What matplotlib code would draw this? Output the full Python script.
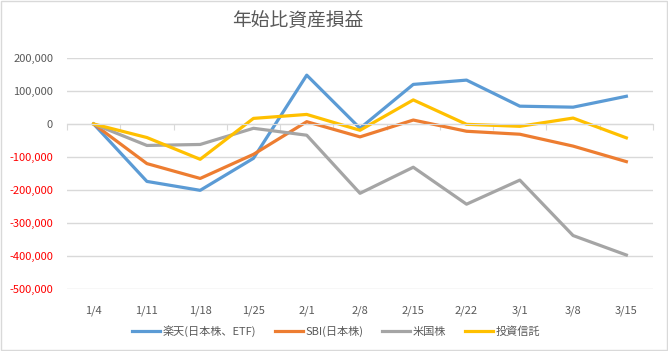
import matplotlib
matplotlib.use('Agg')
import matplotlib.pyplot as plt
from matplotlib.ticker import FuncFormatter

plt.rcParams['font.family'] = ['Noto Sans CJK JP', 'DejaVu Sans']

dates = ['1/4', '1/11', '1/18', '1/25', '2/1', '2/8', '2/15', '2/22', '3/1', '3/8', '3/15']
rakuten = [0, -174000, -201000, -104000, 148000, -13000, 120000, 133000, 54000, 51000, 84000]
sbi = [0, -120000, -165000, -92000, 7000, -39000, 12000, -22000, -31000, -67000, -114000]
us_stock = [0, -65000, -62000, -13000, -34000, -210000, -131000, -243000, -170000, -338000, -397000]
trust = [0, -41000, -107000, 17000, 29000, -19000, 73000, -1000, -7000, 18000, -42000]
names = ['楽天(日本株、ETF)', 'SBI(日本株)', '米国株', '投資信託']
colors = ['#5B9BD5', '#ED7D31', '#A5A5A5', '#FFC000']

text_col = '#595959'
grid_col = '#d9d9d9'

fig = plt.figure(figsize=(6.68, 3.51), dpi=100)
fig.patches.append(plt.Rectangle((0.001, 0.002), 0.997, 0.995, transform=fig.transFigure,
                                 fill=False, edgecolor=grid_col, lw=1))
ax = fig.add_axes([67 / 668, 1 - 289 / 351, 586 / 668, 231 / 351])

x = list(range(len(dates)))
for series, name, c in zip([rakuten, sbi, us_stock, trust], names, colors):
    ax.plot(x, series, color=c, lw=2.3, label=name, solid_joinstyle='round')

ax.set_xlim(-0.5, len(dates) - 0.5)
ax.set_ylim(-500000, 200000)
ax.set_yticks(range(-500000, 200001, 100000))
ax.yaxis.set_major_formatter(FuncFormatter(lambda v, p: f'{int(v):,}'))
ax.grid(axis='y', color=grid_col, lw=1)
ax.set_axisbelow(True)
for s in ['left', 'right', 'top']:
    ax.spines[s].set_visible(False)
ax.spines['bottom'].set_position(('data', 0))
ax.spines['bottom'].set_color(grid_col)
ax.tick_params(axis='y', length=0, labelsize=8, pad=10)
for lab in ax.get_yticklabels():
    lab.set_color('red' if lab.get_text().startswith('-') else text_col)

ax.set_xticks([i - 0.5 for i in range(len(dates) + 1)])
ax.tick_params(axis='x', which='major', direction='out', length=4, color=grid_col, labelbottom=False)

sec = ax.secondary_xaxis(0)
sec.set_xticks(x)
sec.set_xticklabels(dates)
sec.tick_params(length=0, labelsize=8, labelcolor=text_col, pad=12)
sec.spines['bottom'].set_visible(False)

fig.text(298 / 668, 1 - 20 / 351, '年始比資産損益', ha='center', va='center', fontsize=13.5, color=text_col)

leg = fig.legend(loc='center', bbox_to_anchor=(336 / 668, 1 - 331 / 351), ncol=4, frameon=False,
                 fontsize=8, handlelength=2.5, columnspacing=1.7, handletextpad=0.25)
for t in leg.get_texts():
    t.set_color(text_col)

fig.savefig('out.png', dpi=100)
